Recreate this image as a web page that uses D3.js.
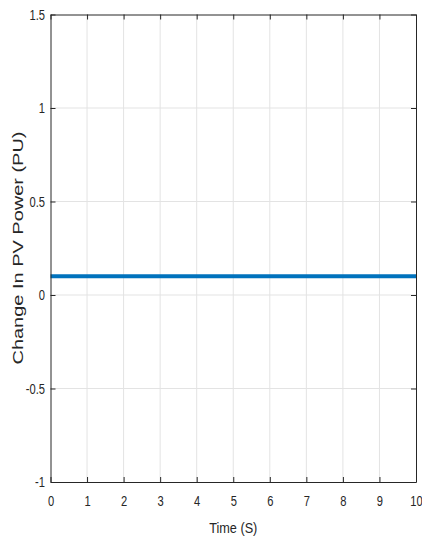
<!DOCTYPE html>
<html><head><meta charset="utf-8">
<script src="https://cdn.jsdelivr.net/npm/d3@7"></script>
<style>body{margin:0;background:#fff}</style>
</head><body>
<svg id="c" width="422" height="541"></svg>
<script>
const xTicks = [0,1,2,3,4,5,6,7,8,9,10];
const yTicks = [-1,-0.5,0,0.5,1,1.5];
const yTickLabels = ["-1","-0.5","0","0.5","1","1.5"];
const timeS = [0,1,2,3,4,5,6,7,8,9,10];
const pvPower = [0.1,0.1,0.1,0.1,0.1,0.1,0.1,0.1,0.1,0.1,0.1];

const m = {l:50.5, t:14.5, r:416, b:482};
const svg = d3.select("#c");
const x = d3.scaleLinear().domain([0,10]).range([m.l,m.r]);
const y = d3.scaleLinear().domain([-1,1.5]).range([m.b,m.t]);
const font = "'Liberation Sans',Arial,sans-serif";
const sx = 0.72;

// grid
svg.append("g").selectAll("line").data(xTicks.slice(1,-1)).join("line")
  .attr("x1",d=>x(d)).attr("x2",d=>x(d)).attr("y1",m.t).attr("y2",m.b)
  .attr("stroke","#e3e3e3").attr("stroke-width",1);
svg.append("g").selectAll("line").data(yTicks.slice(1,-1)).join("line")
  .attr("y1",d=>y(d)).attr("y2",d=>y(d)).attr("x1",m.l).attr("x2",m.r)
  .attr("stroke","#e3e3e3").attr("stroke-width",1);

// line
svg.append("path").datum(timeS.map((t,i)=>[t,pvPower[i]]))
  .attr("d",d3.line().x(d=>x(d[0])).y(d=>y(d[1])))
  .attr("fill","none").attr("stroke","#0072BD").attr("stroke-width",4);

const style = g=>g.selectAll("text").attr("font-family",font).attr("font-size",15.5).attr("fill","#262626");
svg.append("g").attr("transform",`translate(0,${m.b})`)
  .call(d3.axisBottom(x).tickValues(xTicks).tickSizeInner(-5).tickSizeOuter(0).tickPadding(13).tickFormat(d3.format("d")))
  .call(g=>g.select(".domain").attr("stroke","#262626"))
  .call(g=>g.selectAll("line").attr("stroke","#262626"))
  .call(style)
  .call(g=>g.selectAll("text").attr("transform",`scale(${sx},1)`));
svg.append("g").attr("transform",`translate(0,${m.t})`)
  .call(d3.axisTop(x).tickValues(xTicks).tickSizeInner(-5).tickSizeOuter(0).tickFormat(""))
  .call(g=>g.select(".domain").attr("stroke","#262626"))
  .call(g=>g.selectAll("line").attr("stroke","#262626"));
svg.append("g").attr("transform",`translate(${m.l},0)`)
  .call(d3.axisLeft(y).tickValues(yTicks).tickSizeInner(-5).tickSizeOuter(0).tickFormat((d,i)=>yTickLabels[i]))
  .call(g=>g.select(".domain").attr("stroke","#262626"))
  .call(g=>g.selectAll("line").attr("stroke","#262626"))
  .call(style)
  .call(g=>g.selectAll("text").attr("x",-5.5/sx).attr("transform",`scale(${sx},1)`));
svg.append("g").attr("transform",`translate(${m.r},0)`)
  .call(d3.axisRight(y).tickValues(yTicks).tickSizeInner(-5).tickSizeOuter(0).tickFormat(""))
  .call(g=>g.select(".domain").attr("stroke","#262626"))
  .call(g=>g.selectAll("line").attr("stroke","#262626"));

// labels
svg.append("text").attr("transform",`translate(${(m.l+m.r)/2},533) scale(0.82,1)`).attr("text-anchor","middle")
  .attr("font-family",font).attr("font-size",15.5).attr("fill","#262626").text("Time (S)");
svg.append("text").attr("transform",`translate(22.5,248) rotate(-90)`).attr("text-anchor","middle")
  .attr("font-family",font).attr("font-size",15)
  .attr("textLength",233).attr("lengthAdjust","spacingAndGlyphs")
  .attr("fill","#262626").text("Change In PV Power (PU)");
</script>
</body></html>
